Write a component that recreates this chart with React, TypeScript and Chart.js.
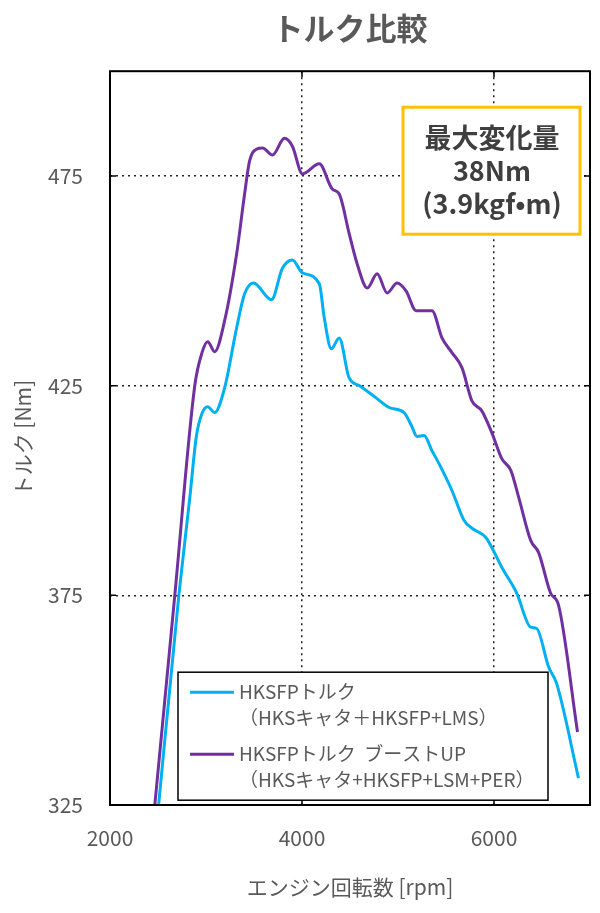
import { useEffect, useRef } from "react";
import { Chart, registerables } from "chart.js";

Chart.register(...registerables);

// engine speed / torque
const rpmStd = [2490, 2717, 2830, 2900, 2960, 3018, 3090, 3194, 3319, 3402, 3495, 3682, 3796, 3900, 4004, 4180, 4233, 4305, 4388, 4490, 4600, 4772, 4908, 5063, 5140, 5198, 5271, 5354, 5427, 5562, 5687, 5770, 5915, 5977, 6081, 6237, 6382, 6444, 6569, 6652, 6880];
const torqueStd = [321, 375, 398, 413, 418.5, 420, 418.6, 424.5, 438.8, 446.9, 449.5, 445.5, 453, 455, 451.9, 449.3, 441, 433.8, 436.4, 426.9, 425, 422.1, 419.8, 418.6, 415.5, 412.9, 413.1, 409.5, 406.4, 400, 392.9, 391, 388.8, 386.4, 381.7, 375.5, 367.4, 367.1, 357.9, 354, 331.4];

const rpmBoost = [2450, 2675, 2883, 2960, 3018, 3090, 3194, 3319, 3402, 3454, 3526, 3589, 3693, 3817, 3900, 4004, 4180, 4315, 4388, 4492, 4575, 4680, 4783, 4887, 4990, 5084, 5188, 5354, 5458, 5562, 5666, 5770, 5873, 5977, 6081, 6175, 6258, 6382, 6465, 6590, 6673, 6870];
const torqueBoost = [321, 375, 425, 433, 435.5, 433.1, 440.5, 456.4, 470.7, 478.6, 481.4, 481.7, 480, 484, 482.1, 475.5, 477.9, 471.9, 470.7, 461.2, 454, 448.3, 451.7, 447.1, 449.5, 447.6, 442.9, 442.9, 436.4, 432.9, 429.3, 421.4, 419, 413.8, 407.6, 404.8, 398.3, 388.1, 385.2, 375.5, 372.6, 342.4];

const xTicks = [2000, 4000, 6000];
const yTicks = [325, 375, 425, 475];

const stdLabel = ["HKSFPトルク", "（HKSキャタ＋HKSFP+LMS）"];
const boostLabel = ["HKSFPトルク  ブーストUP", "（HKSキャタ+HKSFP+LSM+PER）"];
const noteLines = ["最大変化量", "38Nm", "(3.9kgf•m)"];

const FONT = "'Noto Sans CJK JP', 'Noto Sans', sans-serif";
const GREY = "#595959";
const BLUE = "#00B0F0";
const PURPLE = "#7030A0";

const toPoints = (xs: number[], ys: number[]) => xs.map((x, i) => ({ x, y: ys[i] }));

// frame, inner ticks, two-line legend and the note box
const decorPlugin = {
  id: "decor",
  afterDraw(chart: any) {
    const { ctx, chartArea: a } = chart;
    const xs = chart.scales.x;
    const ys = chart.scales.y;
    ctx.save();

    ctx.strokeStyle = "#000";
    ctx.lineWidth = 1.5;
    xTicks.slice(1).forEach((v) => {
      const px = xs.getPixelForValue(v);
      ctx.beginPath();
      ctx.moveTo(px, a.bottom);
      ctx.lineTo(px, a.bottom - 6);
      ctx.moveTo(px, a.top);
      ctx.lineTo(px, a.top + 6);
      ctx.stroke();
    });
    yTicks.slice(1).forEach((v) => {
      const py = ys.getPixelForValue(v);
      ctx.beginPath();
      ctx.moveTo(a.left, py);
      ctx.lineTo(a.left + 6, py);
      ctx.moveTo(a.right, py);
      ctx.lineTo(a.right - 6, py);
      ctx.stroke();
    });

    ctx.lineWidth = 2;
    ctx.strokeRect(a.left, a.top, a.right - a.left, a.bottom - a.top);

    // legend
    const lx = a.left + 68;
    const ly = a.top + 601;
    ctx.fillStyle = "#fff";
    ctx.fillRect(lx, ly, 370, 128);
    ctx.lineWidth = 1.5;
    ctx.strokeStyle = "#000";
    ctx.strokeRect(lx, ly, 370, 128);
    chart.data.datasets.forEach((ds: any, i: number) => {
      const rowY = ly + 20 + i * 62;
      ctx.strokeStyle = ds.borderColor;
      ctx.lineWidth = 3;
      ctx.beginPath();
      ctx.moveTo(lx + 12, rowY);
      ctx.lineTo(lx + 56, rowY);
      ctx.stroke();
      ctx.fillStyle = GREY;
      ctx.font = `19px ${FONT}`;
      ctx.textBaseline = "middle";
      ctx.textAlign = "left";
      ds.label.forEach((line: string, j: number) => {
        ctx.fillText(line, lx + 61, rowY + j * 26);
      });
    });

    // note box
    const bx = a.right - 187;
    const by = a.top + 36;
    ctx.fillStyle = "#fff";
    ctx.fillRect(bx, by, 177, 127);
    ctx.strokeStyle = "#FFC000";
    ctx.lineWidth = 3;
    ctx.strokeRect(bx, by, 177, 127);
    ctx.fillStyle = "#3f3f3f";
    ctx.font = `bold 27px ${FONT}`;
    ctx.textAlign = "center";
    ctx.textBaseline = "middle";
    noteLines.forEach((line, i) => {
      ctx.fillText(line, bx + 89, by + 31 + i * 33);
    });

    ctx.restore();
  },
};

const App = () => {
  const canvasRef = useRef<HTMLCanvasElement | null>(null);

  useEffect(() => {
    document.body.style.margin = "0";
    const canvas = canvasRef.current;
    if (!canvas) return;

    const chart = new Chart(canvas, {
      type: "line",
      data: {
        datasets: [
          {
            label: stdLabel as any,
            data: toPoints(rpmStd, torqueStd),
            borderColor: BLUE,
            borderWidth: 3,
            pointRadius: 0,
            cubicInterpolationMode: "monotone",
          },
          {
            label: boostLabel as any,
            data: toPoints(rpmBoost, torqueBoost),
            borderColor: PURPLE,
            borderWidth: 3,
            pointRadius: 0,
            cubicInterpolationMode: "monotone",
          },
        ],
      },
      options: {
        responsive: false,
        animation: false,
        layout: { padding: { left: 0, right: 10, top: 0, bottom: 0 } },
        plugins: {
          legend: { display: false },
          tooltip: { enabled: false },
          title: {
            display: true,
            fullSize: false,
            text: "トルク比較",
            color: GREY,
            font: { family: FONT, size: 31, weight: "bold" },
            padding: { top: 10, bottom: 24 },
          },
        },
        scales: {
          x: {
            type: "linear",
            min: 2000,
            max: 7000,
            afterBuildTicks: (s: any) => {
              s.ticks = xTicks.map((value) => ({ value }));
            },
            afterFit: (s: any) => {
              s.height = 108;
            },
            grid: { color: "#222", lineWidth: 1.5, drawTicks: false },
            border: { display: false, dash: [2, 4] },
            ticks: {
              color: GREY,
              padding: 20,
              font: { family: FONT, size: 21 },
              callback: (v: any) => String(v),
            },
            title: {
              display: true,
              text: "エンジン回転数 [rpm]",
              color: GREY,
              font: { family: FONT, size: 21 },
              padding: { top: 0, bottom: 13 },
            },
          },
          y: {
            type: "linear",
            min: 325,
            max: 500,
            afterBuildTicks: (s: any) => {
              s.ticks = yTicks.map((value) => ({ value }));
            },
            afterFit: (s: any) => {
              s.width = 110;
            },
            grid: { color: "#222", lineWidth: 1.5, drawTicks: false },
            border: { display: false, dash: [2, 4] },
            ticks: {
              color: GREY,
              padding: 27,
              font: { family: FONT, size: 21 },
              callback: (v: any) => String(v),
            },
            title: {
              display: true,
              text: "トルク [Nm]",
              color: GREY,
              font: { family: FONT, size: 21 },
              padding: { top: 10, bottom: 0 },
            },
          },
        },
      },
      plugins: [decorPlugin],
    });

    return () => {
      chart.destroy();
    };
  }, []);

  return <canvas ref={canvasRef} width={600} height={913} style={{ display: "block" }} />;
};

export default App;
